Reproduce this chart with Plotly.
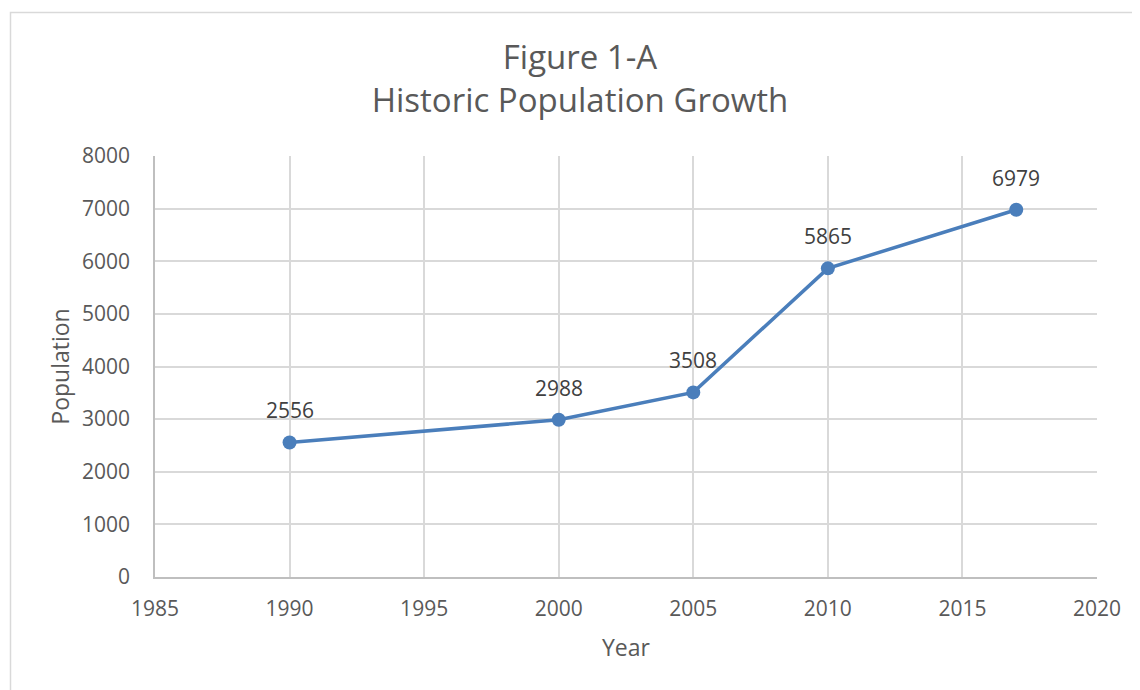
import plotly.graph_objects as go

years = [1990, 2000, 2005, 2010, 2017]
population = [2556, 2988, 3508, 5865, 6979]
labels = [str(v) for v in population]

FONT = "Open Sans"
TXT = "#595959"
GRID = "#d9d9d9"
BLUE = "#4a7ebb"

fig = go.Figure()
fig.add_trace(go.Scatter(
    x=years, y=population, mode="lines+markers",
    line=dict(color=BLUE, width=3.5),
    marker=dict(color=BLUE, size=14),
    cliponaxis=False, showlegend=False,
))

for xv, yv, lab in zip(years, population, labels):
    fig.add_annotation(
        x=xv, y=yv, text=lab, showarrow=False, yshift=32,
        font=dict(family=FONT, size=21, color="#404040"),
    )

# page body has an 8px margin: figure is 1132x682 so the page is 1140x690
W, H = 1132, 682
L, R, T, B = 147, 43, 148, 113
pw, ph = W - L - R, H - T - B

def px2x(px):
    return (px - L) / pw

def py2y(py):
    return (H - B - py) / ph

fig.update_layout(
    width=W, height=H,
    margin=dict(l=L, r=R, t=T, b=B),
    paper_bgcolor="white", plot_bgcolor="white",
    font=dict(family=FONT, color=TXT, size=21),
    title=dict(
        text="Figure 1-A<br>Historic Population Growth",
        x=572 / W, xanchor="center", y=1 - 61 / H, yanchor="middle",
        font=dict(family=FONT, size=33, color=TXT),
    ),
    xaxis=dict(
        range=[1985, 2020], dtick=5, tick0=1985,
        showgrid=True, gridcolor=GRID, gridwidth=1.5,
        showline=True, linecolor="#bfbfbf", linewidth=1.5,
        zeroline=False, ticks="", ticklabelstandoff=12,
        tickfont=dict(family=FONT, size=21, color=TXT),
        title=dict(text="Year", font=dict(family=FONT, size=23, color=TXT), standoff=19),
    ),
    yaxis=dict(
        range=[0, 8000], dtick=1000,
        showgrid=True, gridcolor=GRID, gridwidth=1.5,
        showline=True, linecolor="#bfbfbf", linewidth=1.5,
        zeroline=False, ticks="", ticklabelstandoff=19,
        tickfont=dict(family=FONT, size=21, color=TXT),
        title=dict(text="Population", font=dict(family=FONT, size=23, color=TXT), standoff=6),
    ),
)

fig.add_shape(
    type="rect", xref="paper", yref="paper",
    x0=px2x(2.5), x1=px2x(1130.5), y0=py2y(700), y1=py2y(4.5),
    line=dict(color="#d9d9d9", width=1.5), fillcolor="rgba(0,0,0,0)", layer="below",
)

fig.write_html("out.html")
